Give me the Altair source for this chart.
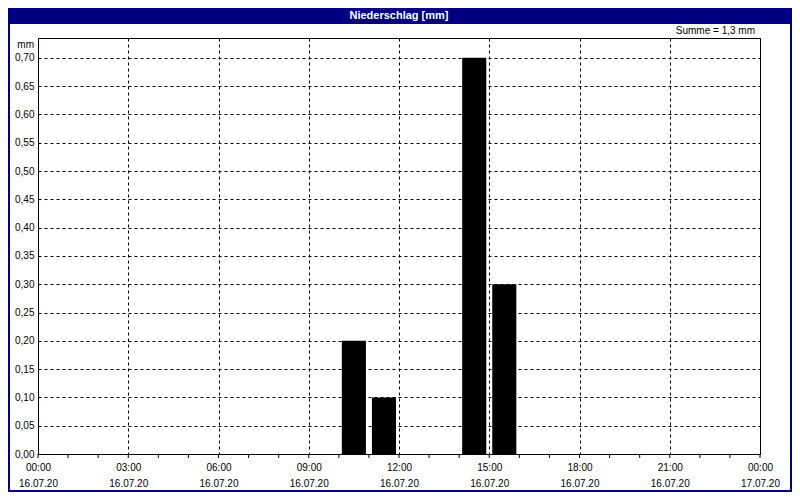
import altair as alt
import pandas as pd

# ---- data ----
bar_start = [10, 11, 14, 15]
bar_end = [11, 12, 15, 16]
precip = [0.20, 0.10, 0.70, 0.30]

x_ticks = [0, 3, 6, 9, 12, 15, 18, 21, 24]
tick_times = ["00:00", "03:00", "06:00", "09:00", "12:00", "15:00", "18:00", "21:00", "00:00"]
tick_dates = ["16.07.20", "16.07.20", "16.07.20", "16.07.20", "16.07.20",
              "16.07.20", "16.07.20", "16.07.20", "17.07.20"]
minor_hours = list(range(25))
y_ticks = [0.00, 0.05, 0.10, 0.15, 0.20, 0.25, 0.30, 0.35,
           0.40, 0.45, 0.50, 0.55, 0.60, 0.65, 0.70]

title_text = "Niederschlag [mm]"
unit_text = "mm"
summe_text = "Summe = " + f"{sum(precip):.1f}".replace(".", ",") + " mm"

# ---- layout ----
W, H = 722, 416
PAD = {"left": 30, "top": 30, "right": 32, "bottom": 38}
NAVY = "#000080"
FONT = "Liberation Sans"

x_scale = alt.Scale(domain=[0, 24], nice=False, zero=False)
y_scale = alt.Scale(domain=[0, 0.735], nice=False)

label_arr = "[" + ",".join(f"['{t}','{d}']" for t, d in zip(tick_times, tick_dates)) + "]"
x_label_expr = label_arr + "[round(datum.value/3)]"
y_label_expr = "replace(format(datum.value, '.2f'), '.', ',')"

x_axis = alt.Axis(
    values=x_ticks, grid=True, gridDash=[3, 3], gridColor="black", gridOpacity=1,
    ticks=False, labelExpr=x_label_expr, labelPadding=8, labelLineHeight=16,
    labelFlush=False, labelOverlap=False, labelAngle=0, title=None,
    domainColor="black")
y_axis = alt.Axis(
    values=y_ticks, grid=True, gridDash=[3, 3], gridColor="black", gridOpacity=1,
    ticks=False, labelExpr=y_label_expr, labelPadding=4, labelOverlap=False,
    title=None, domainColor="black")

bars_df = pd.DataFrame({"start": bar_start, "end": bar_end, "value": precip})
minor_df = pd.DataFrame({"h": minor_hours})
one = pd.DataFrame({"k": [0]})

frame = alt.Chart(one).mark_rect(fill=None, stroke=NAVY, strokeWidth=2).encode(
    x=alt.value(-PAD["left"] + 1), x2=alt.value(W + PAD["right"] - 1),
    y=alt.value(-PAD["top"] + 1), y2=alt.value(H + PAD["bottom"] - 1),
)

title_bar = alt.Chart(one).mark_rect(fill=NAVY).encode(
    x=alt.value(-PAD["left"]), x2=alt.value(W + PAD["right"]),
    y=alt.value(-PAD["top"]), y2=alt.value(-PAD["top"] + 16),
)

title = alt.Chart(one).mark_text(
    font=FONT, fontSize=11, fontWeight="bold", color="white", align="center", baseline="middle"
).encode(x=alt.value(W / 2), y=alt.value(-PAD["top"] + 8), text=alt.value(title_text))

summe = alt.Chart(one).mark_text(
    font=FONT, fontSize=10, color="black", align="right", baseline="middle"
).encode(x=alt.value(W - 5), y=alt.value(-7), text=alt.value(summe_text))

unit = alt.Chart(one).mark_text(
    font=FONT, fontSize=10, color="black", align="right", baseline="middle"
).encode(x=alt.value(-4), y=alt.value(7), text=alt.value(unit_text))

bars = alt.Chart(bars_df).mark_rect(color="black", xOffset=3, x2Offset=-3).encode(
    x=alt.X("start:Q", scale=x_scale, axis=x_axis),
    x2="end:Q",
    y=alt.Y("value:Q", scale=y_scale, axis=y_axis),
    y2=alt.datum(0),
)

minor = alt.Chart(minor_df).mark_rule(color="black", strokeWidth=1).encode(
    x=alt.X("h:Q", scale=x_scale, axis=x_axis),
    y=alt.value(H), y2=alt.value(H + 4),
)

chart = alt.layer(frame, title_bar, title, summe, unit, bars, minor).properties(
    width=W, height=H,
    autosize=alt.AutoSizeParams(type="none"),
    padding=PAD,
    background="white",
).configure_view(
    stroke="black", strokeWidth=1
).configure_axis(
    labelFont=FONT, labelFontSize=10, labelColor="black", domainWidth=1
)

chart.save("out.html", embed_options={"renderer": "svg", "actions": False})
